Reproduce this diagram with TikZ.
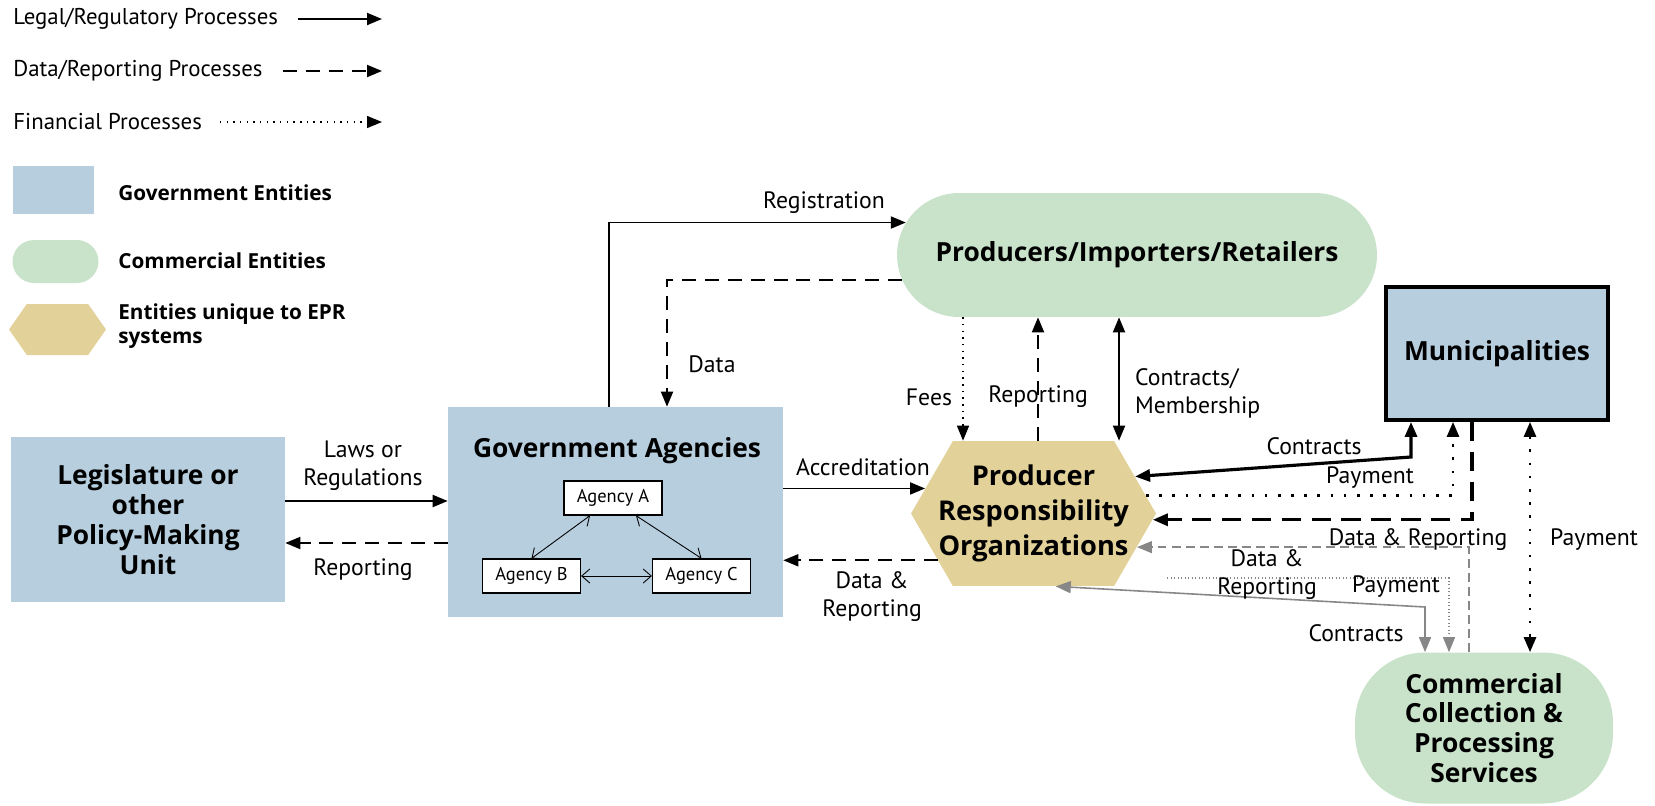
\documentclass[tikz,border=0pt]{standalone}
\usepackage{fontspec}
\setmainfont{PT Sans}
\newfontfamily\boldfam{Open Sans}
\usetikzlibrary{arrows.meta, positioning, calc, shapes.misc, shapes.symbols}

\definecolor{govblue}{RGB}{183,206,222}
\definecolor{comgreen}{RGB}{201,227,202}
\definecolor{eprtan}{RGB}{226,209,152}
\definecolor{linegrey}{RGB}{135,135,135}

\newcommand{\bigbold}{\boldfam\bfseries\fontsize{15}{17}\selectfont}
\newcommand{\lblfont}{\fontsize{13.5}{16}\selectfont}

\tikzset{
  govbox/.style={fill=govblue, align=center, inner sep=0pt, font=\bigbold},
  combox/.style={shape=rounded rectangle, fill=comgreen, align=center, inner sep=0pt, font=\bigbold},
  eprhex/.style={shape=signal, signal to=west and east, signal pointer angle=120, fill=eprtan, align=center, inner sep=0pt, font=\bigbold},
  agbox/.style={draw, fill=white, line width=0.7pt, minimum width=1.96cm, minimum height=0.68cm, inner sep=0pt, font=\fontsize{10.5}{12}\selectfont},
  lbl/.style={align=center, inner sep=1pt, font=\lblfont},
  legtext/.style={anchor=west, inner sep=0pt, font=\fontsize{13}{15}\selectfont},
  legbold/.style={anchor=west, align=left, inner sep=0pt, font=\boldfam\bfseries\fontsize{11.8}{13.5}\selectfont},
  legal/.style={->, line width=1.1pt},
  datarep/.style={->, line width=1.1pt, dash pattern=on 8pt off 5pt},
  fin/.style={->, line width=0.8pt, dash pattern=on 0.8pt off 3pt},
  agarrow/.style={{Straight Barb[length=1.6mm,width=2.8mm]}-{Straight Barb[length=1.6mm,width=2.8mm]}, line width=0.5pt},
  munilegal/.style={<->, line width=1.8pt},
  munidata/.style={->, line width=1.8pt, dash pattern=on 11pt off 6pt},
  munifin/.style={->, line width=1.5pt, dash pattern=on 1.5pt off 6pt},
  greysolid/.style={<->, draw=linegrey, line width=0.9pt},
  greydash/.style={->, draw=linegrey, line width=0.8pt, dash pattern=on 5pt off 3pt},
  greydot/.style={->, draw=linegrey, line width=0.6pt, dash pattern=on 0.6pt off 1.4pt},
}

\begin{document}
\begin{tikzpicture}[x=0.02cm, y=-0.02cm, >={Triangle[length=0.3cm,width=0.24cm]}]
\useasboundingbox (0,0) rectangle (1655,805);

% legend
\node[legtext] (lglegal) at (13,19) {Legal/Regulatory Processes};
\coordinate (lglegala) at (298,19);
\coordinate (lglegalb) at (382,19);
\draw[legal] (lglegala) -- (lglegalb);

\node[legtext] (lgdata) at (13,71) {Data/Reporting Processes};
\coordinate (lgdataa) at (283,71);
\coordinate (lgdatab) at (382,71);
\draw[datarep] (lgdataa) -- (lgdatab);

\node[legtext] (lgfin) at (13,122) {Financial Processes};
\coordinate (lgfina) at (220,122);
\coordinate (lgfinb) at (382,122);
\draw[fin] (lgfina) -- (lgfinb);

\node[govbox, minimum width=1.64cm, minimum height=0.96cm] (lggov) at (53.5,190) {};
\node[legbold] (lggovt) at (118,193) {Government Entities};
\node[combox, minimum width=1.72cm, minimum height=0.86cm] (lgcom) at (55.5,261.5) {};
\node[legbold] (lgcomt) at (118,261) {Commercial Entities};
\node[eprhex, signal pointer angle=110, minimum width=1.94cm, minimum height=1.02cm] (lgepr) at (57.5,329.5) {};
\node[legbold] (lgeprt) at (118,326) {Entities unique to EPR\\systems};

% entities
\node[govbox, minimum width=5.48cm, minimum height=3.3cm] (leg) at (148,519.5) {Legislature or\\other\\Policy-Making\\Unit};
\node[govbox, minimum width=6.7cm, minimum height=4.2cm] (ga) at (615.5,512) {};
\node[font=\bigbold, inner sep=0pt] (gatitle) at (617,451) {Government Agencies};
\node[agbox] (aga) at (613,498) {Agency A};
\node[agbox] (agb) at (531.5,576) {Agency B};
\node[agbox] (agc) at (701.5,576) {Agency C};
\node[eprhex, minimum width=4.9cm, minimum height=2.9cm] (pro) at (1033.5,513.5) {};
\node[align=center, inner sep=0pt, font=\boldfam\bfseries\fontsize{15.5}{20}\selectfont] (protext) at (pro.center) {Producer\\Responsibility\\Organizations};
\node[combox, minimum width=9.6cm, minimum height=2.48cm] (pir) at (1137,255) {Producers/Importers/Retailers};
\node[govbox, draw, line width=2.2pt, minimum width=4.44cm, minimum height=2.66cm] (muni) at (1497,353.5) {Municipalities};
\node[govbox, fill=comgreen, rounded corners=1.4cm, minimum width=5.16cm, minimum height=3.02cm] (ccps) at (1484,728) {Commercial\\Collection \&\\Processing\\Services};

% inside the agencies box
\draw[agarrow] ($(aga.south)+(-23,0)$) -- (agb.north);
\draw[agarrow] ($(aga.south)+(23,0)$) -- (agc.north);
\draw[agarrow] (agb.east) -- (agc.west);

% government side
\draw[legal] (leg.east |- 0,501) -- (ga.west |- 0,501);
\draw[datarep] (ga.west |- 0,543) -- (leg.east |- 0,543);
\node[lbl] (lawslbl) at (363,466) {Laws or\\Regulations};
\node[lbl] (replbl) at (363,570) {Reporting};

\draw[legal] (ga.north -| 609,0) |- (pir.172);
\draw[datarep] (pir.186) -| (ga.north -| 667,0);
\node[lbl] (reglbl) at (824,203) {Registration};
\node[lbl] (datalbl) at (712,364) {Data};

\draw[legal] (ga.east |- pro.167) -- (pro.167);
\draw[datarep] (pro.206) -- (ga.east |- pro.206);
\node[lbl] (acclbl) at (863,467) {Accreditation};
\node[lbl] (drlbl) at (872,597) {Data \&\\Reporting};

% producers and PROs
\draw[fin] (pir.south -| 963,0) -- (pro.north -| 963,0);
\draw[datarep] (pro.north -| 1038,0) -- (pir.south -| 1038,0);
\draw[legal, <->] (pro.north -| 1119,0) -- (pir.south -| 1119,0);
\node[lbl] (feeslbl) at (929,397) {Fees};
\node[lbl] (rep2lbl) at (1038,397) {Reporting};
\node[lbl, anchor=west, align=left] (cmlbl) at (1133,393) {Contracts/\\Membership};

% municipalities
\draw[munilegal] (pro.20) -- (1411,457) -- (muni.south -| 1411,0);
\draw[munifin] (pro.9) -| (muni.south -| 1453,0);
\draw[munidata] (muni.south -| 1472,0) |- (pro.357);
\draw[munifin, <->] (muni.south -| 1530,0) -- (ccps.north -| 1530,0);
\node[lbl] (contrlbl) at (1314,446) {Contracts};
\node[lbl] (paylbl) at (1370,478) {Payment};
\node[lbl] (drlbl2) at (1418,540) {Data \& Reporting};
\node[lbl] (pay2lbl) at (1594,540) {Payment};

% collection services
\coordinate (paystart) at (1167,578);
\draw[greydash] (ccps.north -| 1469,0) |- (pro.342);
\draw[greydot] (paystart) -| (ccps.north -| 1449,0);
\draw[greysolid] (pro.287) -- (1425,607) -- (ccps.north -| 1425,0);
\node[lbl] (drlbl3) at (1267,575) {Data \&\\Reporting};
\node[lbl] (pay3lbl) at (1396,587) {Payment};
\node[lbl] (contr2lbl) at (1356,633) {Contracts};

\end{tikzpicture}
\end{document}
